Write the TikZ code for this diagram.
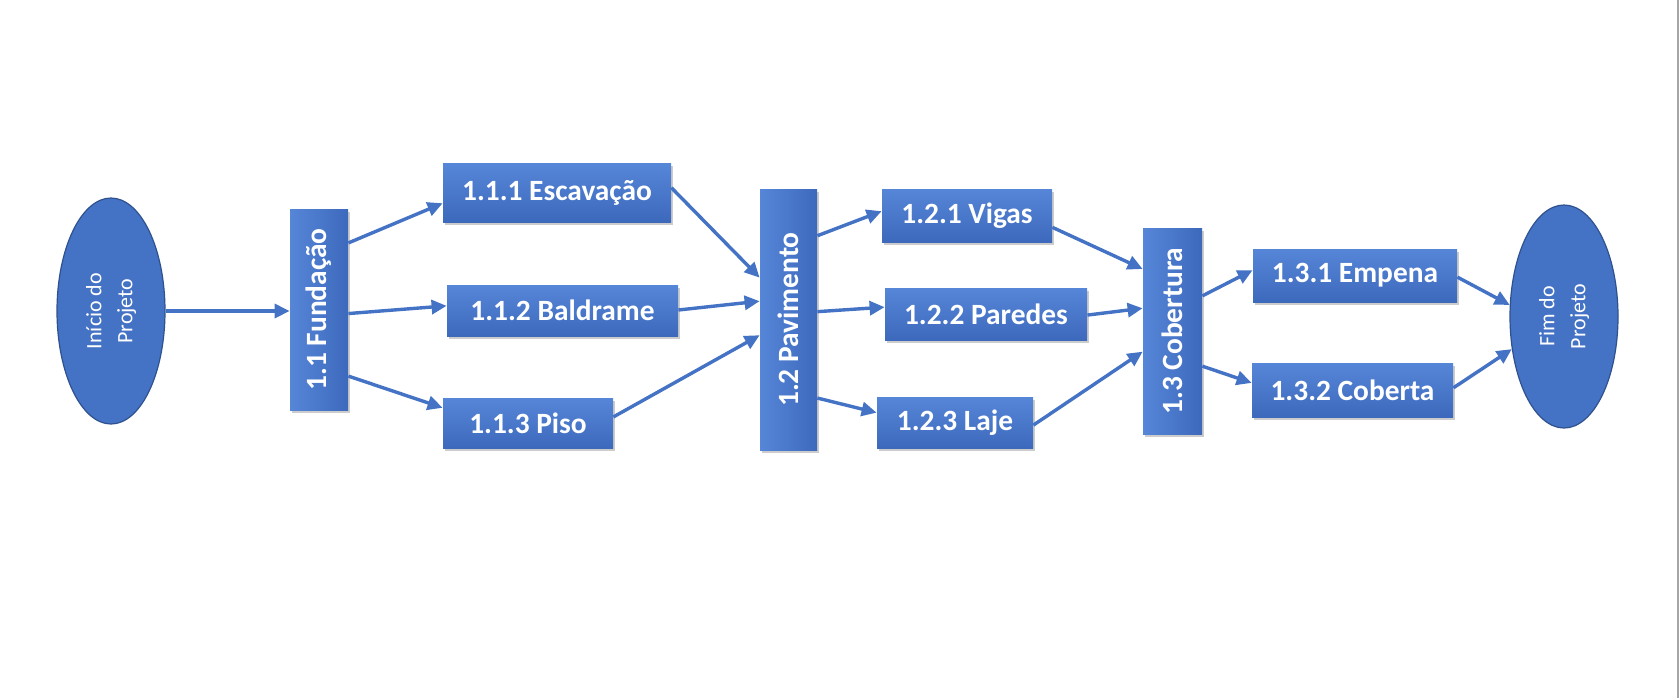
\documentclass[tikz,border=0pt]{standalone}
\usepackage{fontspec}
\setmainfont{Carlito}
\usepackage{graphicx}
\usetikzlibrary{arrows.meta,shapes.geometric,shadows,calc}
\definecolor{ofblue}{HTML}{4472C4}
\definecolor{oflight}{HTML}{5686D8}
\definecolor{ofdark}{HTML}{3D69BC}
\definecolor{ofedge}{HTML}{2F528F}
\tikzset{
  boxshadow/.style={drop shadow={shadow xshift=1.2pt,shadow yshift=-1.5pt,fill=black,opacity=0.2}},
  hbox/.style={rectangle, top color=oflight, bottom color=ofdark, text=white,
    font=\fontsize{14.7}{16}\selectfont\bfseries, inner sep=0pt, boxshadow},
  vbox/.style={rectangle, left color=oflight, right color=ofdark, text=white,
    font=\fontsize{14.7}{16}\selectfont\bfseries, inner sep=0pt, boxshadow},
  terminal/.style={ellipse, fill=ofblue, draw=ofedge, line width=0.6pt, text=white,
    inner sep=0pt, font=\fontsize{11}{15.5}\selectfont},
  link/.style={draw=ofblue, line width=1.7pt, -{Triangle[length=7.5pt,width=7pt]}},
}
\newcommand{\termtext}[2]{\rotatebox{90}{\parbox{60pt}{\centering #1\\#2}}}
\begin{document}
\begin{tikzpicture}[x=0.5pt,y=-0.5pt]
\useasboundingbox (0,0) rectangle (1679,698);
\fill[white] (0,0) rectangle (1679,698);
\draw[gray!70, line width=0.7pt] (1678,0) -- (1678,698);

% terminals
\node[terminal, minimum width=54pt, minimum height=113pt] (inicio) at (111,311) {\termtext{Início do}{Projeto}};
\node[terminal, minimum width=54pt, minimum height=111.5pt] (fim) at (1564,316.5) {\termtext{Fim do}{Projeto}};

% level 1
\node[vbox, minimum width=29pt, minimum height=100.5pt] (fund) at (319,309.5) {\rotatebox{90}{1.1 Fundação}};
\node[vbox, minimum width=28.5pt, minimum height=130.5pt] (pav) at (788.5,319.5) {\rotatebox{90}{1.2 Pavimento}};
\node[vbox, minimum width=29.5pt, minimum height=103pt] (cob) at (1172.5,331) {\rotatebox{90}{1.3 Cobertura}};

% level 2
\node[hbox, minimum width=114pt, minimum height=29.5pt] (esc) at (557,192.5) {1.1.1 Escavação};
\node[hbox, minimum width=115.5pt, minimum height=25.5pt] (bald) at (562.5,310.5) {1.1.2 Baldrame};
\node[hbox, minimum width=85pt, minimum height=25pt] (piso) at (528,423) {1.1.3 Piso};
\node[hbox, minimum width=85pt, minimum height=26.5pt] (vigas) at (967,215.5) {1.2.1 Vigas};
\node[hbox, minimum width=101pt, minimum height=26pt] (paredes) at (986,314) {1.2.2 Paredes};
\node[hbox, minimum width=78pt, minimum height=25.5pt] (laje) at (955,422.5) {1.2.3 Laje};
\node[hbox, minimum width=102pt, minimum height=26.5pt] (empena) at (1355,275.5) {1.3.1 Empena};
\node[hbox, minimum width=100.5pt, minimum height=27pt] (coberta) at (1352.5,390) {1.3.2 Coberta};

% connectors
\draw[link] (inicio.east) -- (inicio.east -| fund.west);

\draw[link] ($(fund.north east)!0.17!(fund.south east)$) -- ($(esc.north west)!0.68!(esc.south west)$);
\draw[link] ($(fund.north east)!0.52!(fund.south east)$) -- ($(bald.north west)!0.41!(bald.south west)$);
\draw[link] ($(fund.north east)!0.83!(fund.south east)$) -- ($(piso.north west)!0.2!(piso.south west)$);

\draw[link] ($(esc.north east)!0.42!(esc.south east)$) -- ($(pav.north west)!0.34!(pav.south west)$);
\draw[link] ($(bald.north east)!0.49!(bald.south east)$) -- ($(pav.north west)!0.43!(pav.south west)$);
\draw[link] ($(piso.north east)!0.38!(piso.south east)$) -- ($(pav.north west)!0.56!(pav.south west)$);

\draw[link] ($(pav.north east)!0.18!(pav.south east)$) -- ($(vigas.north west)!0.42!(vigas.south west)$);
\draw[link] ($(pav.north east)!0.47!(pav.south east)$) -- ($(paredes.north west)!0.37!(paredes.south west)$);
\draw[link] ($(pav.north east)!0.80!(pav.south east)$) -- ($(laje.north west)!0.31!(laje.south west)$);

\draw[link] ($(vigas.north east)!0.72!(vigas.south east)$) -- ($(cob.north west)!0.20!(cob.south west)$);
\draw[link] ($(paredes.north east)!0.52!(paredes.south east)$) -- ($(cob.north west)!0.39!(cob.south west)$);
\draw[link] ($(laje.north east)!0.55!(laje.south east)$) -- ($(cob.north west)!0.60!(cob.south west)$);

\draw[link] ($(cob.north east)!0.33!(cob.south east)$) -- ($(empena.north west)!0.40!(empena.south west)$);
\draw[link] ($(cob.north east)!0.67!(cob.south east)$) -- ($(coberta.north west)!0.37!(coberta.south west)$);

\draw[link] ($(empena.north east)!0.53!(empena.south east)$) -- (fim.168);
\draw[link] ($(coberta.north east)!0.46!(coberta.south east)$) -- (fim.212);
\end{tikzpicture}
\end{document}
